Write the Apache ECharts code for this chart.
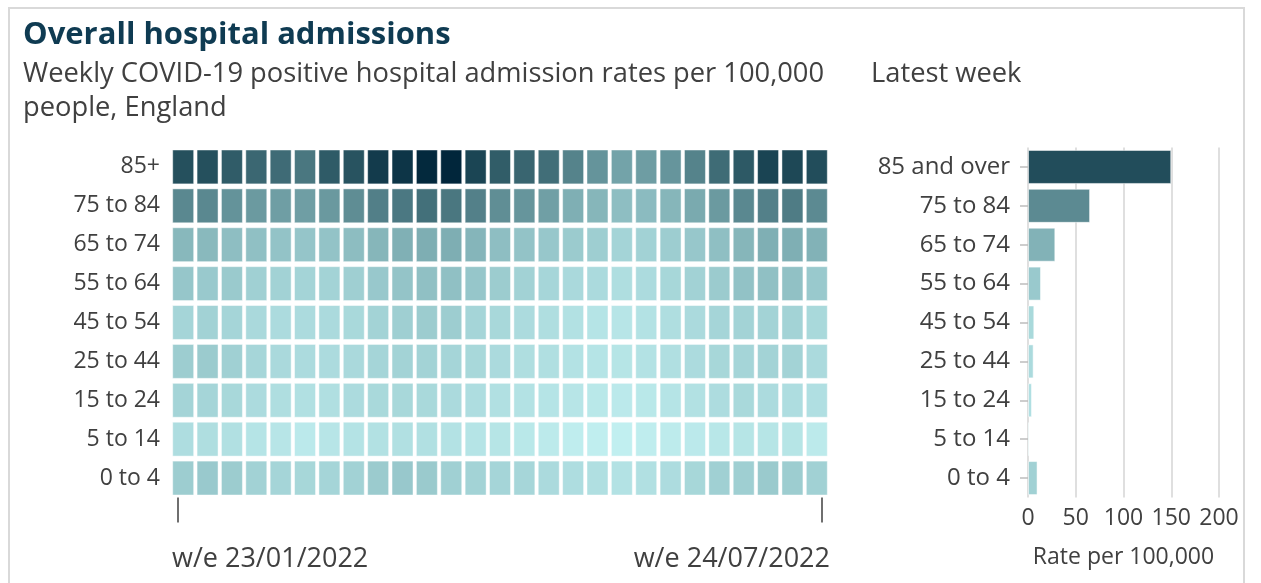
<!DOCTYPE html>
<html>
<head>
<meta charset="utf-8">
<script src="https://cdn.jsdelivr.net/npm/echarts@6/dist/echarts.min.js"></script>
<style>
  html, body { margin: 0; padding: 0; background: #ffffff; }
  #chart { width: 1261px; height: 583px; }
</style>
</head>
<body>
<div id="chart"></div>
<script>
// ---------------- DATA ----------------
const weeks = ['w/e 23/01/2022','w/e 30/01/2022','w/e 06/02/2022','w/e 13/02/2022','w/e 20/02/2022',
  'w/e 27/02/2022','w/e 06/03/2022','w/e 13/03/2022','w/e 20/03/2022','w/e 27/03/2022','w/e 03/04/2022',
  'w/e 10/04/2022','w/e 17/04/2022','w/e 24/04/2022','w/e 01/05/2022','w/e 08/05/2022','w/e 15/05/2022',
  'w/e 22/05/2022','w/e 29/05/2022','w/e 05/06/2022','w/e 12/06/2022','w/e 19/06/2022','w/e 26/06/2022',
  'w/e 03/07/2022','w/e 10/07/2022','w/e 17/07/2022','w/e 24/07/2022'];

const ageGroups = ['85+','75 to 84','65 to 74','55 to 64','45 to 54','25 to 44','15 to 24','5 to 14','0 to 4'];
const latestLabels = ['85 and over','75 to 84','65 to 74','55 to 64','45 to 54','25 to 44','15 to 24','5 to 14','0 to 4'];

// weekly admission rates per 100,000 (one array per age group, oldest week first)
const rates85plus = [146,146,127,110,104,88,129,141,178,188,208,212,162,126,113,100,73,55,41,46,54,73,103,132,164,158,150];
const rates75to84 = [67,67,56,49,45,45,50,62,77,86,97,88,76,61,54,44,31,26,20,22,26,35,49,67,76,81,65];
const rates65to74 = [24.3,23.6,20.3,19,17.2,16,17.2,20.9,25.7,30,32,32,26.4,20,17.2,14.9,12.8,11.3,8.6,9.4,11.8,14.9,19.6,25.7,31,31,28.6];
const rates55to64 = [15.4,13.8,13.3,10.3,9.4,8.6,9,10.8,14.3,16.6,19,19,15.4,12.3,9.4,7.8,6.3,5.9,4.6,5.6,7.4,9.4,12.8,17.8,19,18.4,13.6];
const rates45to54 = [8.2,9.4,8.2,6.3,5.6,5.6,5.9,6.6,9,10.8,12.3,11.8,8.2,7,5.6,4.6,3.7,2.9,2.5,3.4,4.6,5.9,8.2,9,9,9,6.6];
const rates25to44 = [11.8,12.8,10.3,7.8,6.3,5.6,5.6,6.3,8.2,9,9,8.2,7,6,4.6,4.3,3.4,2.9,2.7,3.4,4.3,5.6,7.4,8.2,9,9,5.9];
const rates15to24 = [8.6,8.2,7,5.6,4.6,4,4.3,5.6,6.6,7,6.6,5.9,4.9,4,3.4,2.9,2.5,2,1.65,2,2.9,3.7,5.2,6.6,5.6,4.9,4.2];
const rates5to14  = [4.9,4.6,4,2.9,2.5,1.65,2.5,3.2,3.7,4,4,3.4,2.9,2.7,2,1.5,1,0.86,0.73,1,1.3,1.65,2.25,2.7,2.7,2.7,1.5];
const rates0to4   = [11.8,13.8,12.3,9.4,8.2,7.4,8.2,9.4,12.8,14.3,13.3,10.3,9,8,7.8,5.9,4.9,4.3,3.4,4,5.2,7.4,10.3,10.8,13.3,11.8,10];

const rateTicks = [0, 50, 100, 150, 200];

// ---------------- BUILD ----------------
const ageRows = [rates85plus, rates75to84, rates65to74, rates55to64, rates45to54, rates25to44, rates15to24, rates5to14, rates0to4];
const heatData = [];
ageRows.forEach((row, i) => row.forEach((v, j) => heatData.push([j, i, Math.sqrt(v), v])));
const latestWeek = ageRows.map(r => r[r.length - 1]);
const barData = latestWeek.map((v, i) => [v, i, Math.sqrt(v)]);
const dateRange = [weeks[0], weeks[weeks.length - 1]];

const FONT = 'Open Sans';
const TXT = '#404040';

const chart = echarts.init(document.getElementById('chart'), null, { renderer: 'canvas' });
chart.setOption({
  animation: false,
  backgroundColor: '#ffffff',
  textStyle: { fontFamily: FONT },
  graphic: [{
    type: 'rect', z: -1, silent: true,
    shape: { x: 9, y: 8, width: 1235, height: 640 },
    style: { fill: 'none', stroke: '#d9d9d9', lineWidth: 2 }
  }],
  title: [
    { text: 'Overall hospital admissions', left: 23, top: 15, padding: 0,
      textStyle: { fontFamily: FONT, fontSize: 31, fontWeight: 'bold', color: '#0f3b52', lineHeight: 40 } },
    { text: 'Weekly COVID-19 positive hospital admission rates per 100,000\npeople, England', left: 23, top: 57, padding: 0,
      textStyle: { fontFamily: FONT, fontSize: 27.3, fontWeight: 'normal', color: TXT, lineHeight: 34 } },
    { text: 'Latest week', left: 871, top: 57, padding: 0,
      textStyle: { fontFamily: FONT, fontSize: 27.3, fontWeight: 'normal', color: TXT, lineHeight: 34 } }
  ],
  visualMap: {
    type: 'continuous', show: false, dimension: 2, seriesIndex: [0, 1],
    min: 0, max: 14.64,
    inRange: { color: ['#cdfafa', '#a4d4d7', '#7babb0', '#527f88', '#2a5662', '#00253a'] }
  },
  grid: [
    { left: 171, top: 147.5, width: 658, height: 350 },
    { left: 1028, top: 147.5, width: 191, height: 350 },
    { left: 178, top: 147.5, width: 644, height: 350 }
  ],
  xAxis: [
    { gridIndex: 0, type: 'category', data: weeks,
      axisLine: { show: false }, axisTick: { show: false }, axisLabel: { show: false },
      splitLine: { show: false } },
    { gridIndex: 1, type: 'value', min: rateTicks[0], max: rateTicks[rateTicks.length - 1], interval: 50,
      axisLine: { show: false }, axisTick: { show: false },
      axisLabel: { margin: 9, color: TXT, fontSize: 23, fontFamily: FONT },
      splitLine: { show: true, lineStyle: { color: '#d4d4d4', width: 1.5 } },
      name: 'Rate per 100,000', nameLocation: 'middle', nameGap: 48,
      nameTextStyle: { color: TXT, fontSize: 23, fontFamily: FONT } },
    { gridIndex: 2, type: 'category', data: dateRange, boundaryGap: false, offset: 14,
      axisLine: { show: false },
      axisTick: { show: true, length: 25, lineStyle: { color: TXT, width: 1.5 } },
      axisLabel: { margin: 33, color: TXT, fontSize: 27, fontFamily: FONT, interval: 0,
        formatter: (v, i) => (i === 0 ? '{a|' + v + '}' : '{b|' + v + '}'),
        rich: {
          a: { width: 12, align: 'left', fontSize: 27, lineHeight: 30, color: TXT, fontFamily: FONT },
          b: { width: 16, align: 'right', fontSize: 27, lineHeight: 30, color: TXT, fontFamily: FONT }
        } },
      splitLine: { show: false } }
  ],
  yAxis: [
    { gridIndex: 0, type: 'category', data: ageGroups, inverse: true,
      axisLine: { show: false }, axisTick: { show: false },
      axisLabel: { margin: 11, color: TXT, fontSize: 23, fontFamily: FONT },
      splitLine: { show: false } },
    { gridIndex: 1, type: 'category', data: latestLabels, inverse: true, offset: 3,
      axisLine: { show: false },
      axisTick: { show: true, alignWithLabel: true, length: 8, lineStyle: { color: '#bdbdbd', width: 1.5 } },
      axisLabel: { margin: 15, color: TXT, fontSize: 24, fontFamily: FONT },
      splitLine: { show: false } },
    { gridIndex: 2, type: 'value', show: false }
  ],
  series: [
    { type: 'custom', xAxisIndex: 0, yAxisIndex: 0, data: heatData,
      encode: { x: 0, y: 1 },
      renderItem: function (params, api) {
        const c = api.coord([api.value(0), api.value(1)]);
        const s = api.size([1, 1]);
        const w = s[0] - 3.4, h = s[1] - 5;
        return { type: 'rect',
          shape: { x: c[0] - w / 2, y: c[1] - h / 2, width: w, height: h },
          style: { fill: api.visual('color'), stroke: 'rgba(255,255,255,0.45)', lineWidth: 1 } };
      } },
    { type: 'bar', xAxisIndex: 1, yAxisIndex: 1, data: barData,
      encode: { x: 0, y: 1 }, barWidth: 34,
      itemStyle: { borderColor: 'rgba(255,255,255,0.5)', borderWidth: 1 } }
  ]
});
</script>
</body>
</html>
